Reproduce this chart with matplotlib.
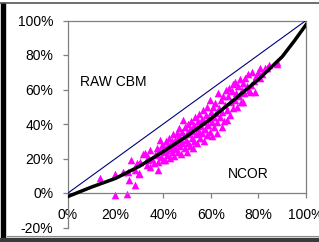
import matplotlib
matplotlib.use("Agg")
import matplotlib.pyplot as plt
from matplotlib.patches import Rectangle
from matplotlib.lines import Line2D

# ---- data ----
diag_x = [0.0, 1.0]
diag_y = [0.0, 1.0]

curve_x = [0.0, 0.1, 0.2, 0.3, 0.4, 0.5, 0.6, 0.7, 0.8, 0.9, 0.95, 1.0]
curve_y = [-0.02, 0.035, 0.085, 0.155, 0.24, 0.33, 0.43, 0.543, 0.658, 0.79, 0.88, 0.975]

pts_x = [0.134, 0.197, 0.197, 0.232, 0.246, 0.253, 0.258, 0.265, 0.280, 0.280,
         0.290, 0.297, 0.300, 0.302, 0.316, 0.323, 0.330, 0.337, 0.337, 0.345, 0.345,
         0.355, 0.362, 0.366, 0.372, 0.372, 0.380, 0.380, 0.385, 0.387, 0.390,
         0.395, 0.398, 0.402, 0.405, 0.408, 0.410, 0.415, 0.418, 0.420, 0.425,
         0.428, 0.432, 0.435, 0.438, 0.440, 0.443, 0.447, 0.450,
         0.453, 0.456, 0.460, 0.462, 0.465, 0.468, 0.470, 0.473, 0.476, 0.478,
         0.480, 0.485, 0.487, 0.490, 0.492, 0.495, 0.498, 0.500, 0.503, 0.505,
         0.508, 0.511, 0.514, 0.516, 0.520, 0.522, 0.526, 0.528, 0.531, 0.534,
         0.537, 0.540, 0.543, 0.546, 0.549,
         0.552, 0.555, 0.558, 0.561, 0.564, 0.567, 0.570, 0.573, 0.576, 0.580,
         0.583, 0.586, 0.589, 0.592, 0.595, 0.597, 0.600, 0.603, 0.606, 0.609,
         0.612, 0.615, 0.618, 0.621, 0.625, 0.628, 0.632, 0.635, 0.638, 0.641,
         0.645, 0.648,
         0.652, 0.655, 0.658, 0.662, 0.667, 0.670, 0.673, 0.677, 0.680, 0.684,
         0.688, 0.692, 0.695, 0.700, 0.703, 0.707, 0.711, 0.715, 0.719, 0.723,
         0.727, 0.731, 0.735, 0.737, 0.741, 0.744,
         0.750, 0.755, 0.760, 0.765, 0.770, 0.775, 0.780, 0.786, 0.790, 0.800,
         0.807, 0.807, 0.815, 0.828, 0.835, 0.845, 0.877, 0.877]
pts_y = [0.085, 0.110, -0.012, 0.122, -0.004, 0.124, 0.075, 0.190, 0.133, 0.046,
         0.176, 0.108, 0.114, 0.180, 0.228, 0.230, 0.165, 0.190, 0.207, 0.250, 0.150,
         0.200, 0.175, 0.220, 0.260, 0.225, 0.180, 0.133, 0.245, 0.307, 0.210,
         0.280, 0.190, 0.235, 0.265, 0.190, 0.300, 0.220, 0.250, 0.280, 0.320,
         0.205, 0.260, 0.300, 0.235, 0.340, 0.275, 0.215, 0.310,
         0.255, 0.350, 0.290, 0.240, 0.330, 0.375, 0.270, 0.310, 0.225, 0.355,
         0.290, 0.423, 0.330, 0.260, 0.380, 0.310, 0.350, 0.240, 0.400, 0.290,
         0.340, 0.370, 0.270, 0.420, 0.320, 0.360, 0.260, 0.395, 0.300, 0.440,
         0.340, 0.375, 0.290, 0.415, 0.355,
         0.460, 0.320, 0.390, 0.430, 0.345, 0.480, 0.300, 0.410, 0.370, 0.450,
         0.335, 0.500, 0.395, 0.430, 0.355, 0.539, 0.470, 0.410, 0.330, 0.500,
         0.440, 0.380, 0.520, 0.465, 0.346, 0.410, 0.578, 0.490, 0.440, 0.540,
         0.380, 0.470,
         0.560, 0.420, 0.510, 0.600, 0.423, 0.480, 0.560, 0.610, 0.450, 0.530,
         0.590, 0.490, 0.630, 0.645, 0.540, 0.580, 0.500, 0.620, 0.560, 0.660,
         0.530, 0.600, 0.640, 0.529, 0.580, 0.665,
         0.620, 0.690, 0.600, 0.587, 0.626, 0.700, 0.650, 0.587, 0.680, 0.703,
         0.665, 0.723, 0.690, 0.723, 0.723, 0.740, 0.761, 0.750]

x_ticks = [0.0, 0.2, 0.4, 0.6, 0.8, 1.0]
x_labels = ["0%", "20%", "40%", "60%", "80%", "100%"]
y_ticks = [-0.2, 0.0, 0.2, 0.4, 0.6, 0.8, 1.0]
y_labels = ["-20%", "0%", "20%", "40%", "60%", "80%", "100%"]

label_raw = "RAW CBM"
label_ncor = "NCOR"

# ---- figure ----
plt.rcParams['font.family'] = ['Liberation Sans', 'DejaVu Sans']
W, H = 319, 242
fig = plt.figure(figsize=(W / 100, H / 100), dpi=100)
fig.patch.set_facecolor('white')

ax = fig.add_axes([68 / W, (H - 227.5) / H, (306 - 68) / W, (227.5 - 20.5) / H])
ax.set_xlim(0, 1)
ax.set_ylim(-0.2, 1.0)

ax.scatter(pts_x, pts_y, marker='^', s=30, color='#FF00FF', linewidths=0, zorder=2)
ax.plot(diag_x, diag_y, color='#000080', lw=0.8, zorder=3)
ax.plot(curve_x, curve_y, color='black', lw=2.5, zorder=4)

spine_col = '#808080'
for s in ['left', 'top', 'right', 'bottom']:
    ax.spines[s].set_color(spine_col)
    ax.spines[s].set_linewidth(0.9)
ax.spines['bottom'].set_position(('data', 0))
ax.spines['right'].set_bounds(0, 1)

ax.set_xticks(x_ticks)
ax.set_xticklabels(x_labels)
ax.set_yticks(y_ticks)
ax.set_yticklabels(y_labels)
ax.tick_params(axis='x', direction='out', length=3.8, width=0.9, color=spine_col,
               pad=7, labelsize=10, labelcolor='black')
ax.tick_params(axis='y', direction='out', length=3.6, width=0.9, color=spine_col,
               pad=7, labelsize=10, labelcolor='black')

ax.text(0.05, 0.643, label_raw, fontsize=10, va='center', ha='left')
ax.text(0.672, 0.108, label_ncor, fontsize=10, va='center', ha='left')

# outer chart frame
fig.add_artist(Line2D([0, 1], [1 - 3 / H, 1 - 3 / H], color='#555555', lw=1.2,
                      transform=fig.transFigure))
fig.add_artist(Rectangle((1 / W, 0), 4 / W, 1 - 3 / H, color='black',
                         transform=fig.transFigure))
fig.add_artist(Rectangle((0, 0), 1, 4 / H, color='#3a3a3a',
                         transform=fig.transFigure))
fig.add_artist(Line2D([7 / W, 1], [6 / H, 6 / H], color='#888888', lw=0.8,
                      transform=fig.transFigure))

fig.savefig('out.png', dpi=100)
